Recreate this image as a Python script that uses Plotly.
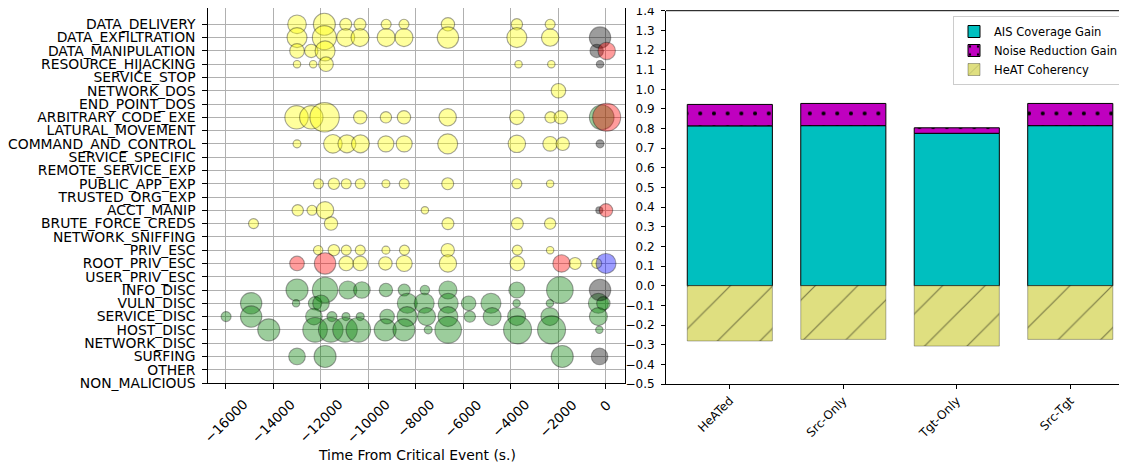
import plotly.graph_objects as go

# ---------------- data ----------------
categories_top_to_bottom = [
    "DATA_DELIVERY", "DATA_EXFILTRATION", "DATA_MANIPULATION", "RESOURCE_HIJACKING",
    "SERVICE_STOP", "NETWORK_DOS", "END_POINT_DOS", "ARBITRARY_CODE_EXE",
    "LATURAL_MOVEMENT", "COMMAND_AND_CONTROL", "SERVICE_SPECIFIC", "REMOTE_SERVICE_EXP",
    "PUBLIC_APP_EXP", "TRUSTED_ORG_EXP", "ACCT_MANIP", "BRUTE_FORCE_CREDS",
    "NETWORK_SNIFFING", "PRIV_ESC", "ROOT_PRIV_ESC", "USER_PRIV_ESC", "INFO_DISC",
    "VULN_DISC", "SERVICE_DISC", "HOST_DISC", "NETWORK_DISC", "SURFING", "OTHER",
    "NON_MALICIOUS",
]

# yellow bubbles: (category, time, size)
yellow_cat = (["DATA_DELIVERY"] * 9 + ["DATA_EXFILTRATION"] * 9 + ["DATA_MANIPULATION"] * 3
              + ["RESOURCE_HIJACKING"] * 5 + ["NETWORK_DOS"] + ["ARBITRARY_CODE_EXE"] * 10
              + ["COMMAND_AND_CONTROL"] * 10 + ["PUBLIC_APP_EXP"] * 9 + ["ACCT_MANIP"] * 4
              + ["BRUTE_FORCE_CREDS"] * 5 + ["PRIV_ESC"] * 9 + ["ROOT_PRIV_ESC"] * 8)
yellow_time = [
    -13000, -11850, -10950, -10350, -9250, -8500, -6650, -3750, -2350,
    -13000, -11850, -10950, -10350, -9250, -8500, -6650, -3750, -2350,
    -13000, -12400, -11820,
    -13000, -12320, -11780, -3680, -2300,
    -2000,
    -13020, -12400, -11840, -10340, -9260, -8500, -6660, -3750, -2330, -1900,
    -13000, -11490, -10900, -10330, -9260, -8490, -6660, -3750, -2350, -1820,
    -12100, -11450, -10930, -10340, -9260, -8490, -6660, -3750, -2350,
    -12970, -12370, -11820, -7620,
    -14830, -11570, -6650, -3730, -2350,
    -12110, -11450, -10930, -10340, -9260, -8480, -6660, -3730, -2350,
    -10930, -10340, -9280, -8490, -6650, -3730, -1300, -390,
]
yellow_size = [
    18.6, 22, 12, 12, 10, 10, 13.4, 11.4, 10,
    20, 24, 18, 18, 18, 18, 21.4, 20, 17.4,
    14.6, 13.4, 20,
    7.4, 7.4, 14.6, 7.4, 7.4,
    14.6,
    23.4, 23.4, 29.4, 13.4, 11.4, 13.4, 17.4, 14.6, 11.4, 13.4,
    8, 18.6, 18, 18, 16, 16, 20, 17.4, 14.6, 13.4,
    10, 11.4, 10, 10, 8, 10, 12, 10, 7.4,
    11.4, 10, 17.4, 7.4,
    10, 13.4, 12, 12, 11.4,
    9.4, 11.4, 10, 10, 8, 10, 13.4, 10, 7.4,
    14.6, 14.6, 13.4, 16, 17.4, 14.6, 12, 10,
]

green_cat = (["ARBITRARY_CODE_EXE"] + ["INFO_DISC"] * 10 + ["VULN_DISC"] * 13
             + ["SERVICE_DISC"] * 15 + ["HOST_DISC"] * 12 + ["SURFING"] * 3)
green_time = [
    -180,
    -13000, -11820, -10860, -10270, -9260, -8490, -7620, -6650, -3750, -1940,
    -14930, -13040, -12240, -11990, -8360, -7650, -6640, -5780, -4840, -3760, -2360, -320, -110,
    -15985, -14930, -12290, -11530, -10940, -10340, -9210, -8370, -7550, -6650, -5730, -4790,
    -3760, -2360, -320,
    -14190, -12240, -11580, -10980, -10420, -9290, -8500, -7480, -6640, -3720, -2290, -280,
    -13000, -11820, -1840,
]
green_size = [
    24.6,
    22, 25.4, 18, 16.6, 13.4, 12, 9.4, 18, 16, 26.6,
    21.4, 7.4, 13.4, 16.6, 20, 20, 20, 14.6, 20, 7.4, 7.4, 20, 13.4,
    10, 21.4, 16.6, 10, 8, 8, 14.6, 20, 18, 20, 11.4, 18, 18, 18, 18,
    22, 24.6, 24.6, 24.6, 24.6, 22, 22, 8, 26.6, 28, 28, 7.4,
    16.6, 22, 22,
]

black_cat = ["DATA_EXFILTRATION", "DATA_MANIPULATION", "RESOURCE_HIJACKING",
             "COMMAND_AND_CONTROL", "ACCT_MANIP", "INFO_DISC", "SURFING"]
black_time = [-250, -390, -250, -250, -280, -250, -270]
black_size = [21.4, 13.4, 7.4, 8, 7, 21.4, 16.6]

red_cat = ["DATA_MANIPULATION", "ARBITRARY_CODE_EXE", "ACCT_MANIP",
           "ROOT_PRIV_ESC", "ROOT_PRIV_ESC", "ROOT_PRIV_ESC"]
red_time = [30, 30, 0, -13000, -11820, -1870]
red_size = [17.4, 28, 13.4, 14.6, 21.4, 17.4]

blue_cat = ["ROOT_PRIV_ESC"]
blue_time = [0]
blue_size = [20]

x_ticks = [-16000, -14000, -12000, -10000, -8000, -6000, -4000, -2000, 0]
x_tick_text = ["\u221216000", "\u221214000", "\u221212000", "\u221210000", "\u22128000",
               "\u22126000", "\u22124000", "\u22122000", "0"]

bar_labels = ["HeATed", "Src-Only", "Tgt-Only", "Src-Tgt"]
ais_gain = [0.814, 0.815, 0.776, 0.815]
noise_gain = [0.109, 0.113, 0.028, 0.113]
heat_coherency = [-0.281, -0.273, -0.307, -0.273]
bar_y_ticks = [-0.5, -0.4, -0.3, -0.2, -0.1, 0.0, 0.1, 0.2, 0.3, 0.4, 0.5, 0.6, 0.7,
               0.8, 0.9, 1.0, 1.1, 1.2, 1.3, 1.4]

# ---------------- figure ----------------
WIN_W, WIN_H = 1127, 465
OFF = 8  # default page body margin
W, H = WIN_W - OFF, WIN_H - OFF
FONT = "DejaVu Sans"


def px(xp):
    return min(max((xp - OFF) / W, 0.0), 1.0)


def py(yp):
    return min(max((H - (yp - OFF)) / H, 0.0), 1.0)


n_cat = len(categories_top_to_bottom)
cat_index = {c: n_cat - 1 - i for i, c in enumerate(categories_top_to_bottom)}

fig = go.Figure()

edge = dict(color="rgba(0,0,0,0.5)", width=1.1)
ALPHA = 0.55


def add_bubbles(cats, times, sizes, rgb):
    fig.add_trace(go.Scatter(
        x=times, y=[cat_index[c] for c in cats], mode="markers",
        marker=dict(size=sizes, sizemode="diameter",
                    color="rgba(%s,%s)" % (rgb, ALPHA), line=edge),
        xaxis="x", yaxis="y", showlegend=False, hoverinfo="x+y",
    ))


add_bubbles(yellow_cat, yellow_time, yellow_size, "255,255,0")
add_bubbles(green_cat, green_time, green_size, "0,128,0")
add_bubbles(black_cat, black_time, black_size, "0,0,0")
add_bubbles(red_cat, red_time, red_size, "255,0,0")
add_bubbles(blue_cat, blue_time, blue_size, "0,0,255")

bar_x = list(range(len(bar_labels)))
fig.add_trace(go.Bar(
    x=bar_x, y=ais_gain, width=0.75, name="AIS Coverage Gain",
    marker=dict(color="#00bfbf", line=dict(color="black", width=1)),
    xaxis="x2", yaxis="y2",
))
fig.add_trace(go.Bar(
    x=bar_x, y=noise_gain, width=0.75, name="Noise Reduction Gain",
    marker=dict(color="#bf00bf", line=dict(color="black", width=1),
                pattern=dict(shape=".", fgcolor="black", bgcolor="#bf00bf",
                             size=13.7, solidity=0.07, fillmode="replace")),
    xaxis="x2", yaxis="y2",
))
fig.add_trace(go.Bar(
    x=bar_x, y=heat_coherency, width=0.75, name="HeAT Coherency",
    marker=dict(color="rgb(223,223,128)", line=dict(color="rgba(0,0,0,0.3)", width=1),
                pattern=dict(shape="/", fgcolor="rgba(0,0,0,0.45)", bgcolor="rgb(223,223,128)",
                             size=30, solidity=0.04, fillmode="replace")),
    xaxis="x2", yaxis="y2",
))

# plot areas in window pixels (left top clipped to the page margin)
L1, R1, T1, B1 = 208.3, 625.0, 8.0, 383.0
CAT_PX = 13.285
y_top = (B1 - T1) / CAT_PX
L2, T2, B2 = 666.0, 10.7, 384.0

annotations = [
    dict(text="Time From Critical Event (s.)", xref="x domain", yref="paper",
         x=0.5, y=py(455), xanchor="center", yanchor="middle",
         showarrow=False, font=dict(size=13.9, family=FONT)),
]
for v, t in zip(x_ticks, x_tick_text):
    annotations.append(dict(
        text=t, xref="x", yref="paper", x=v, y=py(395),
        xanchor="center", yanchor="top", textangle=-45, showarrow=False,
        font=dict(size=13.5, family=FONT), borderpad=0,
    ))

fig.update_layout(
    width=W, height=H,
    margin=dict(l=0, r=0, t=0, b=0, autoexpand=False),
    paper_bgcolor="white", plot_bgcolor="white",
    font=dict(family=FONT, color="black", size=13),
    barmode="relative",
    xaxis=dict(
        domain=[px(L1), px(R1)], range=[-16733, 800],
        tickvals=x_ticks, showticklabels=False,
        ticks="outside", ticklen=5, tickcolor="black",
        showgrid=True, gridcolor="#b0b0b0", gridwidth=0.8, zeroline=False,
        showline=True, linecolor="black", linewidth=1, mirror=True,
        anchor="y", automargin=False,
    ),
    yaxis=dict(
        domain=[py(B1), py(T1)], range=[0, y_top],
        tickvals=[cat_index[c] for c in categories_top_to_bottom],
        ticktext=categories_top_to_bottom,
        ticks="outside", ticklen=5, tickcolor="black", ticklabelstandoff=4,
        showgrid=True, gridcolor="#b0b0b0", gridwidth=0.8, zeroline=False,
        showline=True, linecolor="black", linewidth=1, mirror=True,
        tickfont=dict(size=13.9, family=FONT), anchor="x", automargin=False,
    ),
    xaxis2=dict(
        domain=[px(L2), 1.0], range=[-0.5625, 3.5],
        tickvals=bar_x, ticktext=bar_labels, tickangle=-45,
        ticks="outside", ticklen=4, tickcolor="black",
        showgrid=False, zeroline=False,
        showline=True, linecolor="black", linewidth=1,
        tickfont=dict(size=12, family=FONT), anchor="y2", automargin=False,
    ),
    yaxis2=dict(
        domain=[py(B2), py(T2)], range=[-0.5, 1.4001],
        tickvals=bar_y_ticks, tickformat=".1f", ticklabeloverflow="allow",
        ticks="outside", ticklen=4, tickcolor="black", ticklabelstandoff=4,
        showgrid=False, zeroline=False,
        showline=True, linecolor="black", linewidth=1,
        tickfont=dict(size=12, family=FONT), anchor="x2", automargin=False,
    ),
    legend=dict(
        x=px(953), xanchor="left", y=py(16), yanchor="top",
        bgcolor="white", bordercolor="#cccccc", borderwidth=1,
        font=dict(size=11.5, family=FONT), tracegroupgap=0,
        traceorder="normal",
    ),
    shapes=[
        dict(type="line", xref="paper", yref="paper",
             x0=px(L2), x1=1.02, y0=py(T2), y1=py(T2),
             line=dict(color="black", width=1)),
    ],
    annotations=annotations,
)

fig.write_html("out.html")
